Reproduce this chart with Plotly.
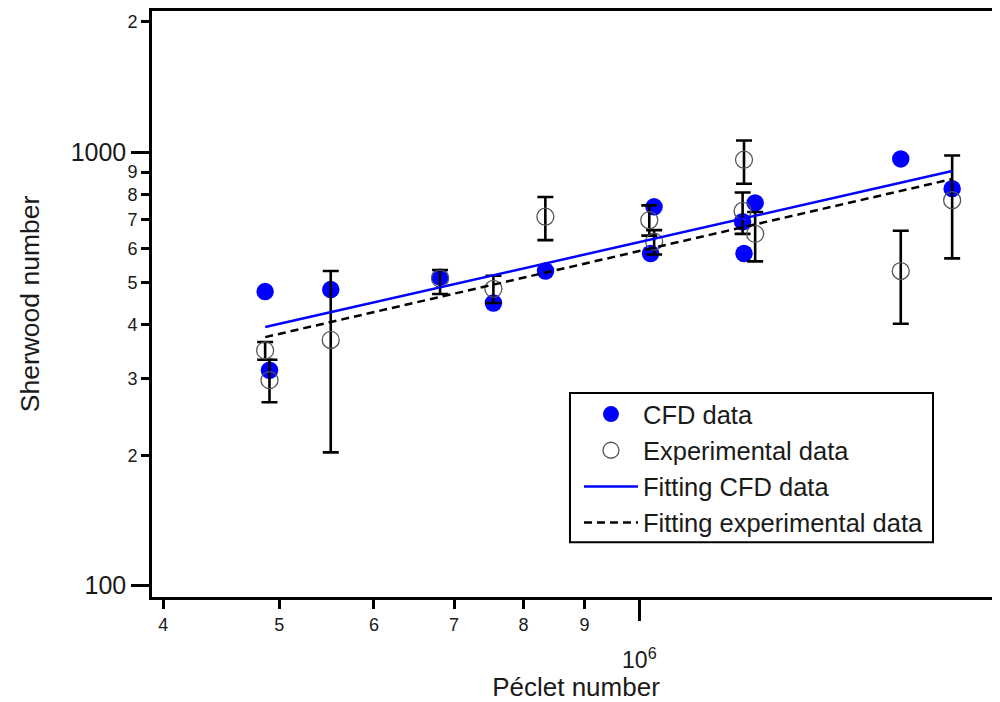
import plotly.graph_objects as go

# ---- data (log-log) ----
cfd_pe = [4.866e5, 4.907e5, 5.521e5, 6.814e5, 7.551e5, 8.348e5, 1.0287e6, 1.0219e6,
          1.2199e6, 1.2232e6, 1.2497e6, 1.654e6, 1.826e6]
cfd_sh = [477, 314, 482, 515, 449, 532, 748, 584, 691, 584, 764, 965, 824]

exp_pe = [4.866e5, 4.907e5, 5.521e5, 6.814e5, 7.551e5, 8.345e5, 1.0193e6, 1.0289e6,
          1.2232e6, 1.2199e6, 1.2497e6, 1.654e6, 1.826e6]
exp_sh = [349, 298, 369, 511, 484, 710, 697, 622, 961, 732, 648, 532, 775]
exp_hi = [365, 332, 532, 535, 519, 788, 754, 661, 1064, 807, 728, 659, 983]
exp_lo = [332, 265, 203, 471, 449, 627, 642, 581, 846, 648, 560, 402, 569]

fit_pe = [4.867e5, 1.826e6]
fit_cfd_sh = [395, 905]
fit_exp_sh = [374.5, 867]

x_digit_vals = [4e5, 5e5, 6e5, 7e5, 8e5, 9e5, 2e6]
x_digit_text = ["4", "5", "6", "7", "8", "9", "2"]
x_decade_vals = [1e6]
x_decade_text = ["10<sup>6</sup>"]

y_digit_vals = [200, 300, 400, 500, 600, 700, 800, 900, 2000]
y_digit_text = ["2", "3", "4", "5", "6", "7", "8", "9", "2"]
y_decade_vals = [100, 1000]
y_decade_text = ["100", "1000"]

err_plus = [h - v for h, v in zip(exp_hi, exp_sh)]
err_minus = [v - l for v, l in zip(exp_sh, exp_lo)]

FONT = "Liberation Sans, Arial, sans-serif"
TXT = "#1a1a1a"
XR = [5.5926, 6.3015]
YR = [1.974, 3.3257]

fig = go.Figure()
fig.add_trace(go.Scatter(
    x=cfd_pe, y=cfd_sh, mode="markers", name="CFD data",
    marker=dict(symbol="circle", size=17.5, color="#0000ff", line=dict(width=0)),
))
fig.add_trace(go.Scatter(
    x=exp_pe, y=exp_sh, mode="markers", name="Experimental data",
    marker=dict(symbol="circle-open", size=17, color="#555555", line=dict(width=1.3)),
    error_y=dict(type="data", symmetric=False, array=err_plus, arrayminus=err_minus,
                 color="black", thickness=2.6, width=8),
))
fig.add_trace(go.Scatter(
    x=fit_pe, y=fit_cfd_sh, mode="lines", name="Fitting CFD data",
    line=dict(color="#0000ff", width=2.5),
))
fig.add_trace(go.Scatter(
    x=fit_pe, y=fit_exp_sh, mode="lines", name="Fitting experimental data",
    line=dict(color="black", width=2.5, dash="8px,5px"),
))
# hidden helper traces so the overlaid minor-label axes get drawn
fig.add_trace(go.Scatter(x=cfd_pe, y=cfd_sh, xaxis="x2", yaxis="y",
                         visible="legendonly", showlegend=False, hoverinfo="skip"))
fig.add_trace(go.Scatter(x=cfd_pe, y=cfd_sh, xaxis="x", yaxis="y2",
                         visible="legendonly", showlegend=False, hoverinfo="skip"))

fig.update_layout(
    width=992, height=694,
    margin=dict(l=144, r=0, t=0, b=105),
    paper_bgcolor="white", plot_bgcolor="white",
    font=dict(family=FONT, color=TXT),
    showlegend=True,
    legend=dict(
        x=0.5035, y=0.3515, xanchor="left", yanchor="top",
        borderwidth=0, bgcolor="rgba(0,0,0,0)",
        font=dict(size=25.5, family=FONT, color=TXT),
        itemwidth=54,
    ),
    shapes=[dict(type="rect", xref="paper", yref="paper",
                 x0=0.4929, x1=0.921, y0=0.0934, y1=0.348,
                 line=dict(color="black", width=2), fillcolor="rgba(0,0,0,0)",
                 layer="above")],
    xaxis=dict(
        type="log", range=XR, showgrid=False, zeroline=False,
        showline=True, linecolor="black", linewidth=2.5, mirror=True,
        tickmode="array", tickvals=x_decade_vals, ticktext=x_decade_text,
        ticks="outside", ticklen=21, tickwidth=2.5, tickcolor="black",
        tickfont=dict(size=23, family=FONT, color=TXT),
        ticklabelstandoff=20,
        title=dict(text="Péclet number", font=dict(size=26, family=FONT, color=TXT), standoff=4),
    ),
    xaxis2=dict(
        type="log", range=XR, overlaying="x", anchor="y", side="bottom",
        showgrid=False, zeroline=False, showline=False,
        tickmode="array", tickvals=x_digit_vals, ticktext=x_digit_text,
        ticks="outside", ticklen=11, tickwidth=2.5, tickcolor="black",
        tickfont=dict(size=18, family=FONT, color=TXT),
    ),
    yaxis=dict(
        type="log", range=YR, showgrid=False, zeroline=False,
        showline=True, linecolor="black", linewidth=2.5, mirror=False,
        tickmode="array", tickvals=y_decade_vals, ticktext=y_decade_text,
        ticks="outside", ticklen=18, tickwidth=2.5, tickcolor="black",
        tickfont=dict(size=25, family=FONT, color=TXT),
        title=dict(text="Sherwood number", font=dict(size=26.5, family=FONT, color=TXT), standoff=24),
    ),
    yaxis2=dict(
        type="log", range=YR, overlaying="y", anchor="x", side="left",
        showgrid=False, zeroline=False, showline=False,
        tickmode="array", tickvals=y_digit_vals, ticktext=y_digit_text,
        ticks="outside", ticklen=10, tickwidth=2.5, tickcolor="black",
        tickfont=dict(size=18, family=FONT, color=TXT),
    ),
)

fig.write_html("out.html")
